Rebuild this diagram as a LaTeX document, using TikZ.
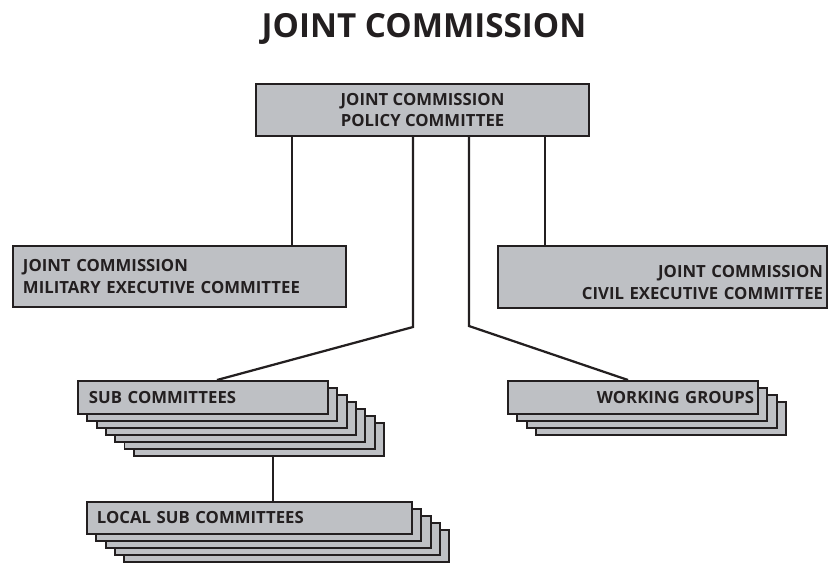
\documentclass[tikz,border=0pt]{standalone}
\usepackage{fontspec}
\setmainfont{Open Sans}
\usetikzlibrary{positioning}
\definecolor{cgray}{RGB}{190, 192, 196}
\definecolor{cline}{RGB}{35, 31, 32}

\begin{document}
\begin{tikzpicture}[
  x=0.025cm, y=-0.025cm,
  every node/.style={inner sep=3pt},
  box/.style={rectangle, draw=cline, fill=cgray, line width=1.4pt,
              font=\fontsize{11.9}{15.5}\selectfont\bfseries, text=cline,
              anchor=north west},
  back/.style={box, minimum width=#1},
  link/.style={draw=cline, line width=1.6pt},
  title/.style={font=\fontsize{23.6}{28}\selectfont\bfseries, text=cline}
]
\useasboundingbox (0,0) rectangle (828,562);

% Title
\node[title, anchor=base] (ttl) at (424,37) {JOINT COMMISSION};

% Top committees
\node[box, minimum width=8.325cm, minimum height=1.3cm, align=center]
  (pol) at (255,83) {JOINT COMMISSION\\POLICY COMMITTEE};
\node[box, minimum height=1.525cm, text width=7.825cm, inner xsep=0.25cm,
  align=left] (mil) at (12,245) {JOINT COMMISSION\\MILITARY EXECUTIVE COMMITTEE};
\node[box, minimum height=1.55cm, text width=8.025cm, inner xsep=0.1cm,
  align=right] (civ) at (497,245)
  {\rule{0pt}{17pt}JOINT COMMISSION\\CIVIL EXECUTIVE COMMITTEE};

% Stacks
\foreach \i in {6,...,1}
  \node[back=6.25cm, minimum height=0.825cm] (sub\i) at (77+\i*9.3,380+\i*7) {};
\node[box, minimum height=0.825cm, text width=5.7cm, inner xsep=0.275cm,
  align=left] (sub) at (77,380) {SUB COMMITTEES};

\foreach \i in {3,...,1}
  \node[back=6.25cm, minimum height=0.825cm] (wg\i) at (507+\i*9.3,380+\i*7) {};
\node[box, minimum height=0.825cm, text width=6.05cm, inner xsep=0.1cm,
  align=right] (wg) at (507,380) {WORKING GROUPS};

\foreach \i in {4,...,1}
  \node[back=8.125cm, minimum height=0.8cm] (loc\i) at (86+\i*9.3,501+\i*7) {};
\node[box, minimum height=0.8cm, text width=7.625cm, inner xsep=0.25cm,
  align=left] (loc) at (86,501) {LOCAL SUB COMMITTEES};

% Links
\coordinate (jm) at (292,0);
\coordinate (jc) at (545,0);
\coordinate (bl) at (413,327);
\coordinate (br) at (469,326);
\coordinate (js) at (217,0);
\coordinate (jw) at (628,0);
\coordinate (jl) at (273,0);

\draw[link] (pol.south -| jm) -- (mil.north -| jm);
\draw[link] (pol.south -| jc) -- (civ.north -| jc);
\draw[link] (pol.south -| bl) -- (bl) -- (sub.north -| js);
\draw[link] (pol.south -| br) -- (br) -- (wg.north -| jw);
\draw[link] (sub6.south -| jl) -- (loc.north -| jl);

\end{tikzpicture}
\end{document}
